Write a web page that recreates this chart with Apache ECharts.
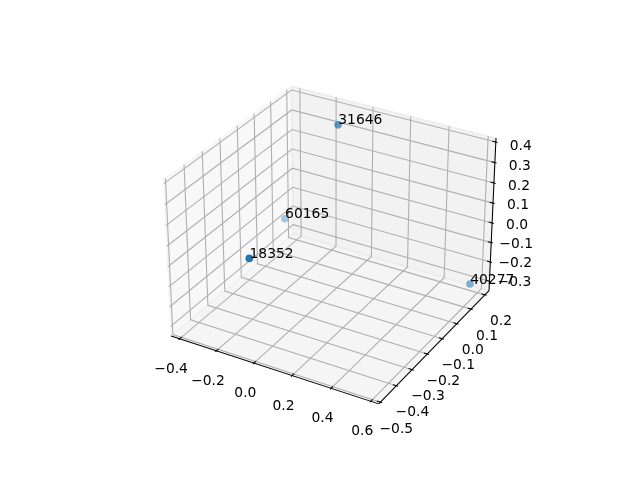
<!DOCTYPE html>
<html>
<head>
<meta charset="utf-8">
<style>html,body{margin:0;padding:0;background:#fff}#c{width:640px;height:480px}</style>
<script src="https://cdn.jsdelivr.net/npm/echarts@6/dist/echarts.min.js"></script>
</head>
<body>
<div id="c"></div>
<script>
const pointLabels = ['18352', '31646', '40277', '60165'];
const xValues = [-0.055, -0.101, 0.571, -0.378];
const yValues = [-0.463, 0.125, 0.183, 0.1014];
const zValues = [0.117, 0.37, -0.30, -0.163];
const xTicks = [-0.4, -0.2, 0.0, 0.2, 0.4, 0.6];
const yTicks = [-0.5, -0.4, -0.3, -0.2, -0.1, 0.0, 0.1, 0.2];
const zTicks = [-0.3, -0.2, -0.1, 0.0, 0.1, 0.2, 0.3, 0.4];
const xTickLabels = ['\u22120.4', '\u22120.2', '0.0', '0.2', '0.4', '0.6'];
const yTickLabels = ['\u22120.5', '\u22120.4', '\u22120.3', '\u22120.2', '\u22120.1', '0.0', '0.1', '0.2'];
const zTickLabels = ['\u22120.3', '\u22120.2', '\u22120.1', '0.0', '0.1', '0.2', '0.3', '0.4'];
const xLim = [-0.425, 0.618];
const yLim = [-0.495, 0.215];
const zLim = [-0.334, 0.404];

// matplotlib mplot3d camera: elev 30, azim -60, dist 10, box aspect 4:4:3
const deg = Math.PI / 180, el = 30 * deg, az = -60 * deg, dist = 10;
const k = 1.8294640721620434 / Math.hypot(4, 4, 3);
const box = [4 * k, 4 * k, 3 * k];
const lims = [xLim, yLim, zLim];
const dot = (a, b) => a[0] * b[0] + a[1] * b[1] + a[2] * b[2];
const cross = (a, b) => [a[1] * b[2] - a[2] * b[1], a[2] * b[0] - a[0] * b[2], a[0] * b[1] - a[1] * b[0]];
const unit = a => { const n = Math.hypot(a[0], a[1], a[2]); return a.map(c => c / n); };
const W = [Math.cos(el) * Math.cos(az), Math.cos(el) * Math.sin(az), Math.sin(el)];
const eye = box.map((b, i) => b / 2 + dist * W[i]);
const U = unit(cross([0, 0, 1], W));
const V = cross(W, U);
function project(p) {
  const q = p.map((c, i) => (c - lims[i][0]) / (lims[i][1] - lims[i][0]) * box[i] - eye[i]);
  const zv = dot(W, q);
  return { x: dot(U, q) / -zv, y: dot(V, q) / -zv };
}
const P = p => { const r = project(p); return [r.x, r.y]; };

// panes extend 1/48 of the range beyond the limits
const lo = lims.map(l => l[0] - (l[1] - l[0]) / 48);
const hi = lims.map(l => l[1] + (l[1] - l[0]) / 48);
const [x0, y0, z0] = lo, [x1, y1, z1] = hi;
const tk = i => (hi[i] - lo[i]) / 12.5;

const panes = [
  { pts: [[x0, y0, z0], [x0, y1, z0], [x0, y1, z1], [x0, y0, z1]], c: 'rgba(242,242,242,0.5)' },
  { pts: [[x0, y1, z0], [x1, y1, z0], [x1, y1, z1], [x0, y1, z1]], c: 'rgba(230,230,230,0.5)' },
  { pts: [[x0, y0, z0], [x1, y0, z0], [x1, y1, z0], [x0, y1, z0]], c: 'rgba(236,236,236,0.5)' }
];
const gridLines = [];
xTicks.forEach(t => gridLines.push([[t, y0, z0], [t, y1, z0], [t, y1, z1]]));
yTicks.forEach(t => gridLines.push([[x1, t, z0], [x0, t, z0], [x0, t, z1]]));
zTicks.forEach(t => gridLines.push([[x0, y0, t], [x0, y1, t], [x1, y1, t]]));

const axisLines = [
  [[x0, y0, z0], [x1, y0, z0]],
  [[x1, y0, z0], [x1, y1, z0]],
  [[x1, y1, z0], [x1, y1, z1]]
];
xTicks.forEach(t => axisLines.push([[t, y0 - tk(1) * 0.1, z0], [t, y0 + tk(1) * 0.2, z0]]));
yTicks.forEach(t => axisLines.push([[x1 + tk(0) * 0.1, t, z0], [x1 - tk(0) * 0.2, t, z0]]));
zTicks.forEach(t => axisLines.push([[x1 + tk(0) * 0.1, y1, t], [x1 - tk(0) * 0.2, y1, t]]));

const tickTexts = [];
xTicks.forEach((t, i) => tickTexts.push({ p: [t, y0, z0], s: xTickLabels[i], dx: -8.5, dy: 30.5, a: 'center' }));
yTicks.forEach((t, i) => tickTexts.push({ p: [x1, t, z0], s: yTickLabels[i], dx: 16, dy: 27, a: 'center' }));
zTicks.forEach((t, i) => tickTexts.push({ p: [x1, y1, t], s: zTickLabels[i], dx: 25, dy: 1 + 3 * i / 7, a: 'center' }));

const FONT = '13.89px "DejaVu Sans"';
// depth shading, nearest point solid
const depthShade = { '18352': 1, '31646': 0.72, '40277': 0.55, '60165': 0.38 };
const scatterData = pointLabels.map((name, i) => ({
  name, value: P([xValues[i], yValues[i], zValues[i]]),
  itemStyle: { color: '#1f77b4', opacity: depthShade[name] }
}));

function poly(list, styleOf, type) {
  return {
    type: 'custom', coordinateSystem: 'cartesian2d', silent: true, clip: false,
    data: list.map((_, i) => [i]), encode: { x: 0, y: 0 }, animation: false,
    renderItem: (params, api) => {
      const it = list[params.dataIndex];
      const pts = (it.pts || it).map(p => api.coord(P(p)));
      return { type, shape: { points: pts }, style: styleOf(it) };
    }
  };
}
function texts(list) {
  return {
    type: 'custom', coordinateSystem: 'cartesian2d', silent: true, clip: false, z: 5,
    data: list.map((_, i) => [i]), encode: { x: 0, y: 0 },
    renderItem: (params, api) => {
      const t = list[params.dataIndex];
      const c = api.coord(P(t.p));
      return {
        type: 'text', x: c[0] + t.dx, y: c[1] + t.dy,
        style: { text: t.s, font: FONT, fill: '#000', align: t.a, verticalAlign: 'middle' }
      };
    }
  };
}
const pointTexts = pointLabels.map((s, i) => ({ p: [xValues[i], yValues[i], zValues[i]], s, dx: 0.2, dy: -4, a: 'left' }));

const chart = echarts.init(document.getElementById('c'), null, { renderer: 'canvas' });
chart.setOption({
  animation: false,
  backgroundColor: '#fff',
  grid: { left: 143.2, top: 57.6, width: 369.6, height: 369.6 },
  xAxis: { type: 'value', min: -0.095, max: 0.09, show: false },
  yAxis: { type: 'value', min: -0.095, max: 0.09, show: false },
  series: [
    poly(panes, it => ({ fill: it.c, stroke: it.c, lineWidth: 1.4 }), 'polygon'),
    poly(gridLines, () => ({ fill: 'none', stroke: '#b0b0b0', lineWidth: 1.11 }), 'polyline'),
    poly(axisLines, () => ({ fill: 'none', stroke: '#000', lineWidth: 1.04 }), 'polyline'),
    texts(tickTexts),
    { type: 'scatter', data: scatterData, symbol: 'circle', symbolSize: 7.6, silent: true, clip: false, z: 4 },
    texts(pointTexts)
  ]
});
</script>
</body>
</html>
